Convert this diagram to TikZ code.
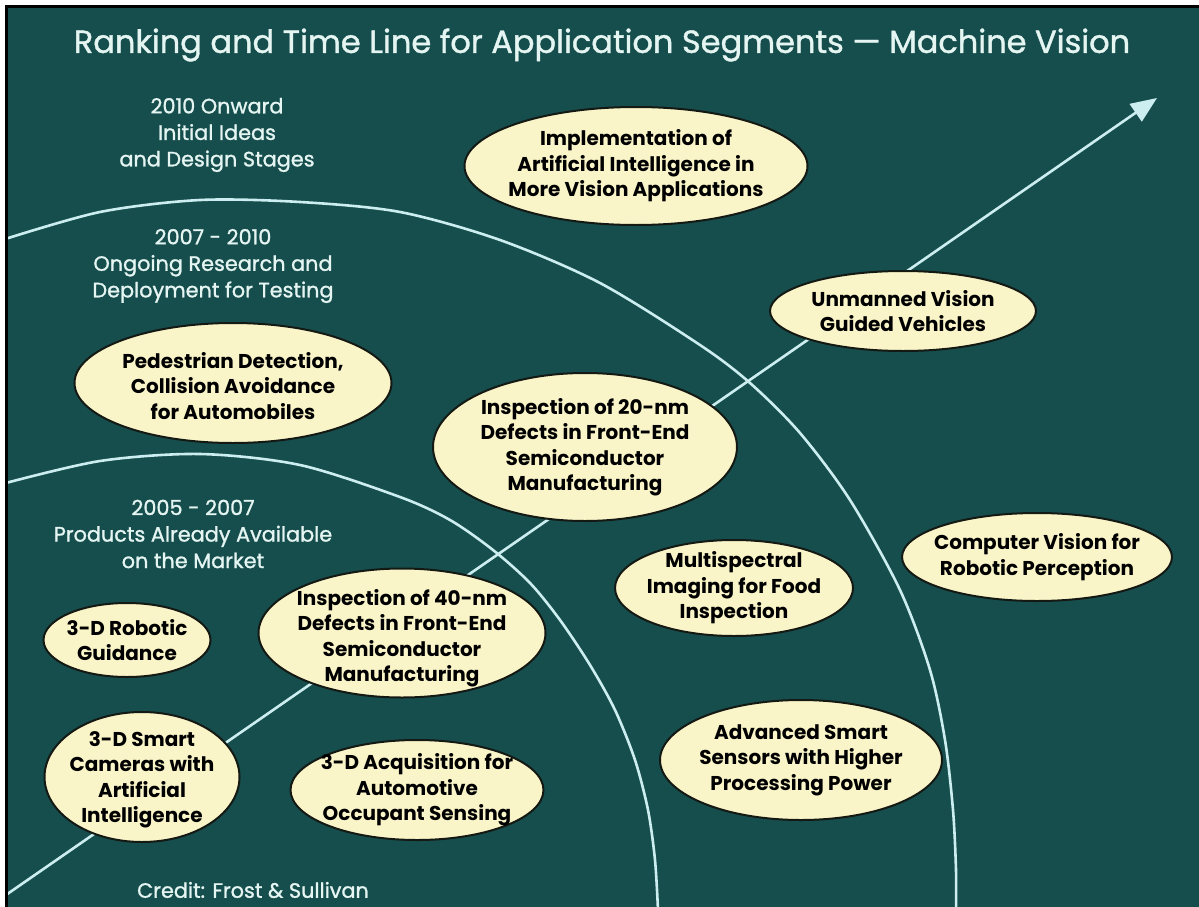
\documentclass[tikz,border=0pt]{standalone}
\usepackage{fontspec}
\setmainfont{Poppins}
\newfontfamily\medfont{Poppins}[FakeBold=1.2]
\usetikzlibrary{shapes.geometric,arrows.meta}
\definecolor{bg}{RGB}{22,78,77}
\definecolor{pale}{RGB}{250,245,200}
\definecolor{arcc}{RGB}{205,238,240}
\definecolor{ttl}{RGB}{228,245,242}
\definecolor{outl}{RGB}{20,25,20}
\begin{document}
\begin{tikzpicture}[x=1pt,y=-1pt,
  segshape/.style={ellipse, draw=outl, line width=2pt, fill=pale, inner sep=0pt},
  segtext/.style={align=center, text=black, inner sep=0pt, font=\bfseries\fontsize{20}{25.5}\selectfont},
  stage/.style={align=center, text=ttl, inner sep=0pt, font=\medfont\fontsize{20.8}{26.5}\selectfont},
  curve/.style={draw=arcc, line width=2.6pt}]
\useasboundingbox (0,0) rectangle (1199,907);
\fill[white] (0,0) rectangle (1199,907);
\fill[black] (5,5) rectangle (1199,907);
\fill[bg] (8,8) rectangle (1199,907);
\begin{scope}
\clip (8,8) rectangle (1199,907);
\draw[curve] plot[smooth] coordinates {(2,240) (100,212) (200,200) (300,202) (400,212) (500,240) (600,283) (700,345) (750,383) (800,433) (850,500) (900,590) (930,670) (945,740) (953,810) (956,870) (956,910)};
\draw[curve] plot[smooth] coordinates {(2,484) (100,461) (200,454) (300,465) (400,497) (450,520) (493,550) (530,583) (560,620) (590,665) (615,710) (635,760) (648,810) (655,860) (658,910)};
\coordinate (a0) at (3,897);
\coordinate (a1) at (1157,98);
\draw[curve,-{Triangle[length=26pt,width=21pt]}] (a0) -- (a1);
\end{scope}
\node[font=\medfont\fontsize{32}{36}\selectfont, text=ttl] (title) at (602,45) {Ranking and Time Line for Application Segments — Machine Vision};
\node[stage] (s3) at (217,135) {2010 Onward\\Initial Ideas\\and Design Stages};
\node[stage] (s2) at (213,266) {2007 - 2010\\Ongoing Research and\\Deployment for Testing};
\node[stage] (s1) at (193,534) {2005 - 2007\\Products Already Available\\on the Market};
\node[stage] (credit) at (253,890) {Credit: Frost \& Sullivan};
% ellipses
\node[segshape, minimum width=343pt, minimum height=118pt] (impl) at (636,166) {};
\node[segtext] (implt) at (impl.center) {Implementation of\\Artificial Intelligence in\\More Vision Applications};
\node[segshape, minimum width=266pt, minimum height=80pt] (unm) at (903,311) {};
\node[segtext] (unmt) at (unm.center) {Unmanned Vision\\Guided Vehicles};
\node[segshape, minimum width=317pt, minimum height=120pt] (ped) at (233,383) {};
\node[segtext] (pedt) at (233,386) {Pedestrian Detection,\\Collision Avoidance\\for Automobiles};
\node[segshape, minimum width=304pt, minimum height=148pt] (nm20) at (585,447) {};
\node[segtext] (nm20t) at (nm20.center) {Inspection of 20-nm\\Defects in Front-End\\Semiconductor\\Manufacturing};
\node[segshape, minimum width=238pt, minimum height=96pt] (msp) at (734,588) {};
\node[segtext] (mspt) at (msp.center) {Multispectral\\Imaging for Food\\Inspection};
\node[segshape, minimum width=270pt, minimum height=88pt] (cvr) at (1037,557) {};
\node[segtext] (cvrt) at (cvr.center) {Computer Vision for\\Robotic Perception};
\node[segshape, minimum width=167pt, minimum height=74pt] (rob) at (127,640) {};
\node[segtext] (robt) at (rob.center) {3-D Robotic\\Guidance};
\node[segshape, minimum width=287pt, minimum height=129pt] (nm40) at (402,633) {};
\node[segtext] (nm40t) at (402,638) {Inspection of 40-nm\\Defects in Front-End\\Semiconductor\\Manufacturing};
\node[segshape, minimum width=282pt, minimum height=120pt] (adv) at (801,760) {};
\node[segtext] (advt) at (adv.center) {Advanced Smart\\Sensors with Higher\\Processing Power};
\node[segshape, minimum width=195pt, minimum height=130pt] (cam) at (142,777) {};
\node[segtext] (camt) at (142,780) {3-D Smart\\Cameras with\\Artificial\\Intelligence};
\node[segshape, minimum width=253pt, minimum height=100pt] (acq) at (417,790) {};
\node[segtext] (acqt) at (acq.center) {3-D Acquisition for\\Automotive\\Occupant Sensing};
\end{tikzpicture}
\end{document}
